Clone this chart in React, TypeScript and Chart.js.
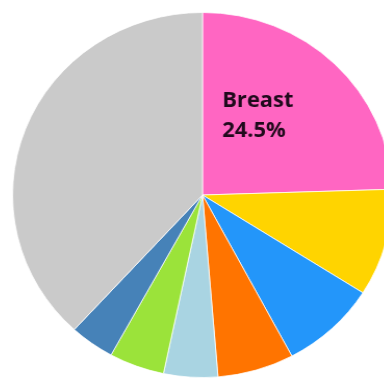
import React, { useEffect, useRef } from "react";
import { Chart, registerables } from "chart.js";

Chart.register(...registerables);

const categories = [
  "Breast",
  "Colorectum",
  "Lung",
  "Cervix uteri",
  "Thyroid",
  "Corpus uteri",
  "Stomach",
  "Other",
];
const shares = [24.5, 9.5, 8.2, 6.5, 4.6, 4.7, 3.8, 38.2];
const sliceColors = [
  "#FF66C2",
  "#FFD400",
  "#2396FA",
  "#FF7400",
  "#A9D4E2",
  "#9BE33A",
  "#4682B8",
  "#CACACA",
];
const labelLines = ["Breast", "24.5%"];

const STRETCH_X = 1.041;
const INNER_W = 370;
const INNER_H = 390;

const labelPlugin = {
  id: "breastLabel",
  afterDatasetsDraw(chart: any) {
    const arc = chart.getDatasetMeta(0).data[0];
    if (!arc) return;
    const { x, y } = arc.getProps(["x", "y"], true);
    const ctx = chart.ctx;
    ctx.save();
    ctx.fillStyle = "#200a1c";
    ctx.font = "700 21px 'Open Sans'";
    ctx.textAlign = "left";
    ctx.textBaseline = "alphabetic";
    ctx.fillText(labelLines[0], x + 19, y - 88);
    ctx.fillText(labelLines[1], x + 19, y - 58);
    ctx.restore();
  },
};

export default function App() {
  const ref = useRef<HTMLCanvasElement | null>(null);
  useEffect(() => {
    if (!ref.current) return;
    const chart = new Chart(ref.current, {
      type: "pie",
      data: {
        labels: categories,
        datasets: [
          {
            data: shares,
            backgroundColor: sliceColors,
            borderColor: "rgba(255,255,255,0.75)",
            borderWidth: 1,
          },
        ],
      },
      options: {
        responsive: false,
        animation: false,
        radius: 182.5,
        layout: { padding: 0 },
        plugins: {
          legend: { display: false },
          tooltip: { enabled: false },
          title: { display: false },
        },
      },
      plugins: [labelPlugin],
    });
    return () => chart.destroy();
  }, []);

  return (
    <div
      style={{
        position: "fixed",
        left: 0,
        top: 0,
        width: 384,
        height: 378,
        overflow: "hidden",
        background: "#ffffff",
      }}
    >
      <canvas
        ref={ref}
        width={INNER_W}
        height={INNER_H}
        style={{
          position: "absolute",
          left: 10,
          top: 0,
          width: `${INNER_W * STRETCH_X}px`,
          height: `${INNER_H}px`,
        }}
      />
    </div>
  );
}
